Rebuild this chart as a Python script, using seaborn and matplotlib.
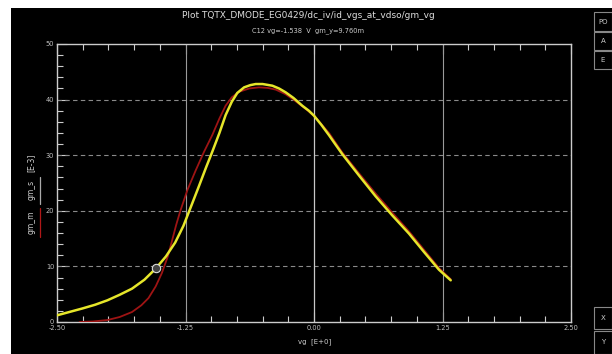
import numpy as np
import pandas as pd
import matplotlib
matplotlib.use("Agg")
import matplotlib.pyplot as plt
from matplotlib.patches import Rectangle
from matplotlib.lines import Line2D
import seaborn as sns

# ---- data ----
vg_yellow = [-2.50, -2.38, -2.25, -2.13, -2.01, -1.89, -1.77, -1.65, -1.54, -1.44, -1.35,
             -1.27, -1.20, -1.12, -1.05, -0.99, -0.92, -0.86, -0.80, -0.746, -0.68,
             -0.62, -0.567, -0.50, -0.405, -0.34, -0.275, -0.20, -0.114, -0.05, 0.0,
             0.07, 0.146, 0.21, 0.275, 0.44, 0.60, 0.76, 0.924, 1.07, 1.216, 1.33]
gm_yellow = [1.2, 1.8, 2.45, 3.1, 3.9, 4.9, 6.0, 7.6, 9.6, 11.8, 14.3,
             17.3, 20.6, 24.4, 27.8, 30.6, 34.0, 37.2, 39.6, 41.2, 42.2,
             42.6, 42.8, 42.8, 42.5, 42.0, 41.3, 40.3, 38.9, 38.0, 37.1,
             35.5, 33.6, 31.9, 30.2, 26.3, 22.6, 19.2, 15.9, 12.6, 9.4, 7.5]
vg_red = [-2.28, -2.15, -2.01, -1.89, -1.77, -1.68, -1.61, -1.54, -1.48, -1.42, -1.38,
          -1.34, -1.30, -1.23, -1.15, -1.07, -0.99, -0.92, -0.86, -0.80, -0.73,
          -0.63, -0.535, -0.45, -0.373, -0.28, -0.20, -0.10, 0.0, 0.146, 0.275,
          0.44, 0.60, 0.76, 0.924, 1.07, 1.216, 1.33]
gm_red = [0.0, 0.1, 0.35, 0.9, 1.8, 3.0, 4.3, 6.4, 8.8, 11.9, 14.7,
          17.5, 20.0, 23.8, 27.3, 30.6, 33.6, 36.6, 38.9, 40.4, 41.4,
          42.0, 42.2, 42.1, 41.8, 41.0, 40.0, 38.6, 37.1, 34.0, 30.5,
          26.7, 23.1, 19.7, 16.3, 13.0, 9.7, 7.7]
marker_vg, marker_gm = -1.538, 9.760
x_ticks = [-2.50, -1.25, 0.00, 1.25, 2.50]
x_ticklabels = ["-2.50", "-1.25", "0.00", "1.25", "2.50"]
y_ticks = [0, 10, 20, 30, 40, 50]
title = "Plot TQTX_DMODE_EG0429/dc_iv/id_vgs_at_vdso/gm_vg"
subtitle = "C12 vg=-1.538  V  gm_y=9.760m"

df = pd.concat([
    pd.DataFrame({"vg": vg_yellow, "gm": gm_yellow, "s": "gm_m"}),
    pd.DataFrame({"vg": vg_red, "gm": gm_red, "s": "gm_s"}),
])

sns.set_style("dark")
plt.rcParams["font.family"] = ["DejaVu Sans"]

W, H = 612, 354
fig = plt.figure(figsize=(W / 100, H / 100), dpi=100, facecolor="white")
fig.patches.append(Rectangle((11 / W, 0), 1 - 11 / W, 1 - 8 / H, transform=fig.transFigure,
                             facecolor="black", edgecolor="none", zorder=-10))

ax = fig.add_axes([57 / W, (H - 322) / H, (571 - 57) / W, (322 - 44) / H])
ax.set_zorder(5)
ax.set_facecolor("black")

# grid
for yv in [10, 20, 30, 40]:
    ax.axhline(yv, color="#8a8a8a", lw=0.8, ls=(0, (4, 3)), zorder=1)
for xv in [-1.25, 1.25]:
    ax.axvline(xv, color="#9a9a9a", lw=0.8, zorder=1)
ax.axvline(0, color="#c8c8c8", lw=0.9, zorder=1)

sns.lineplot(data=df, x="vg", y="gm", hue="s",
             palette={"gm_m": "#e6e62a", "gm_s": "#9e1414"},
             hue_order=["gm_s", "gm_m"], ax=ax, legend=False, estimator=None, sort=False)
for line in ax.get_lines():
    c = matplotlib.colors.to_hex(line.get_color())
    line.set_solid_joinstyle("round")
    if c == "#e6e62a":
        line.set_linewidth(1.8)
        line.set_zorder(4)
    elif c == "#9e1414":
        line.set_linewidth(1.3)
        line.set_zorder(3)

ax.plot([marker_vg], [marker_gm], marker="o", ms=6, mfc="#444444", mec="#dddddd", mew=0.8, zorder=5)

ax.set_xlim(-2.5, 2.5)
ax.set_ylim(0, 50)
ax.set_xticks(x_ticks)
ax.set_xticklabels(x_ticklabels)
ax.set_yticks(y_ticks)
ax.set_xticks(np.arange(-2.5, 2.51, 0.25), minor=True)
ax.set_yticks(np.arange(0, 50.1, 2), minor=True)
ax.tick_params(which="both", direction="in", colors="#cccccc", top=True, bottom=True,
               left=True, right=False, labelsize=4.8, labelcolor="#c0c0c0")
ax.tick_params(which="major", length=7, width=0.8, pad=2)
ax.tick_params(which="minor", length=4, width=0.8)
ax.tick_params(axis="x", which="both", labeltop=False)
for side in ["left", "bottom", "top", "right"]:
    ax.spines[side].set_color("#cccccc")
    ax.spines[side].set_linewidth(1.0)
    ax.spines[side].set_visible(True)
ax.grid(False)
ax.set_xlabel("")
ax.set_ylabel("")

fig.text(315 / W, 1 - 342 / H, "vg  [E+0]", color="#cccccc", fontsize=5, ha="center", va="center")
# y label pieces with colored underlines
for txt, yc in [("gm_m", 222), ("gm_s", 190), ("[E-3]", 163)]:
    fig.text(31 / W, 1 - yc / H, txt, color="#cccccc", fontsize=5.5,
             rotation=90, ha="center", va="center")
fig.add_artist(Line2D([40 / W, 40 / W], [1 - 237 / H, 1 - 208 / H], color="#b01818", lw=0.9))
fig.add_artist(Line2D([40 / W, 40 / W], [1 - 204 / H, 1 - 177 / H], color="#aaaaaa", lw=0.9))

fig.text(308 / W, 1 - 16 / H, title, color="#dddddd", fontsize=6.5, ha="center", va="center")
fig.text(308 / W, 1 - 31 / H, subtitle, color="#cccccc", fontsize=4.8, ha="center", va="center")

# side buttons
for lbl, y0, y1 in [("PO", 12, 31), ("A", 32, 50), ("E", 51, 69), ("X", 307, 329), ("Y", 331, 354)]:
    fig.patches.append(Rectangle((594 / W, 1 - y1 / H), (612 - 594) / W, (y1 - y0) / H,
                                 transform=fig.transFigure, facecolor="black",
                                 edgecolor="#888888", lw=0.8, zorder=2))
    fig.text(603 / W, 1 - (y0 + y1) / 2 / H, lbl, color="#cccccc", fontsize=5,
             ha="center", va="center")

fig.savefig("out.png", dpi=100, facecolor="white")
